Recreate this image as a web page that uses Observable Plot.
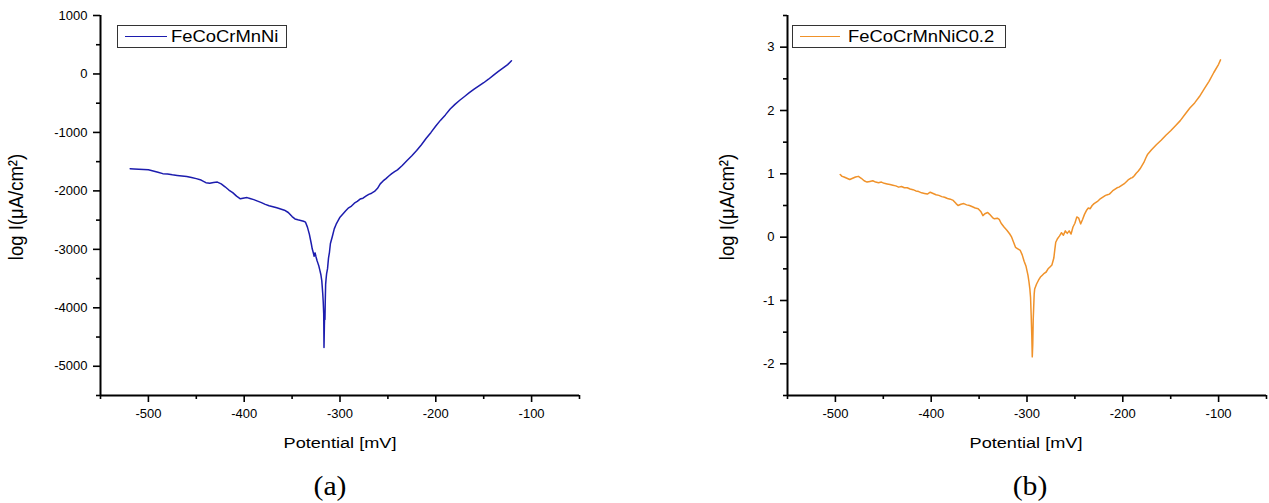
<!DOCTYPE html>
<html>
<head>
<meta charset="utf-8">
<script src="https://cdn.jsdelivr.net/npm/d3@7"></script>
<script src="https://cdn.jsdelivr.net/npm/@observablehq/plot@0.6"></script>
<style>
  body { margin: 0; background: #fff; font-family: "Liberation Sans", Arial, sans-serif; }
  #wrap { position: relative; width: 1269px; height: 503px; overflow: hidden; background: #fff; }
  .plot { position: absolute; top: 0; }
  .legend { position: absolute; top: 25px; height: 23px; border: 1px solid #333; box-sizing: border-box; background: #fff; }
  .legend .swatch { position: absolute; top: 10px; height: 0; border-top: 1.6px solid; }
  .legend .ltext { position: absolute; top: 1px; font-size: 16px; line-height: 19px; color: #000; white-space: nowrap; transform: scaleX(1.15); transform-origin: left center; }
  .xtitle { position: absolute; top: 434px; font-size: 15.5px; line-height: 18px; color: #000; white-space: nowrap; transform: translateX(-50%) scaleX(1.17); }
  .ytitle { position: absolute; top: 207px; font-size: 18.5px; line-height: 20px; color: #000; white-space: nowrap; transform: translate(-50%, -50%) rotate(-90deg) scaleY(1.1); }
  .caption { position: absolute; top: 470px; font-family: "Liberation Serif", "Times New Roman", serif; font-size: 27px; line-height: 32px; color: #000; transform: translateX(-50%) scaleX(1.1); }
</style>
</head>
<body>
<div id="wrap"></div>
<script>
// ---- shared axis ticks ----
const xMajor = [-500, -400, -300, -200, -100];
const xMinor = [-550, -450, -350, -250, -150, -50];

// ---- panel (a): FeCoCrMnNi ----
const seriesA = "FeCoCrMnNi";
const yMajorA = [1000, 0, -1000, -2000, -3000, -4000, -5000];
const yMinorA = [500, -500, -1500, -2500, -3500, -4500, -5500];
const potentialA = [-519, -515, -510, -505, -500, -495, -490, -485, -480, -475, -470, -465, -460, -455, -450, -445, -440, -436, -432, -428, -424, -420, -416, -412, -408, -404, -400, -397, -394, -390, -386, -382, -378, -374, -370, -366, -362, -358, -354, -350, -347, -344, -341, -338, -336, -334, -332, -330, -329, -328, -327, -326, -325, -324, -323, -322, -321, -320, -319, -318, -317.5, -317, -316.7, -316.3, -316, -315.7, -315.4, -315, -314.5, -314, -313, -312, -311, -310, -308, -306, -304, -302, -300, -297, -294, -291, -288, -285, -282, -279, -276, -273, -270, -267, -264, -261, -258, -255, -252, -249, -246, -243, -240, -235, -230, -225, -220, -215, -210, -205, -200, -195, -190, -185, -180, -175, -170, -165, -160, -155, -150, -145, -140, -135, -130, -125, -121];
const logIA = [-1620, -1625, -1630, -1635, -1640, -1660, -1680, -1705, -1712, -1725, -1735, -1745, -1755, -1770, -1790, -1815, -1860, -1868, -1855, -1850, -1880, -1930, -1985, -2030, -2090, -2135, -2120, -2115, -2130, -2150, -2175, -2200, -2230, -2255, -2270, -2290, -2310, -2330, -2370, -2440, -2480, -2495, -2505, -2520, -2535, -2620, -2740, -2900, -2990, -3050, -3120, -3060, -3130, -3190, -3240, -3290, -3360, -3430, -3540, -3760, -3900, -4100, -4680, -4300, -4100, -4200, -3900, -3600, -3500, -3420, -3330, -3150, -3050, -2900, -2780, -2650, -2570, -2510, -2450, -2395, -2340, -2290, -2260, -2210, -2180, -2140, -2125, -2090, -2060, -2040, -2010, -1960, -1880, -1830, -1790, -1745, -1705, -1670, -1640, -1565, -1480, -1400, -1310, -1210, -1100, -1000, -890, -790, -700, -600, -520, -450, -385, -320, -260, -205, -150, -90, -25, 40, 100, 160, 225];

// ---- panel (b): FeCoCrMnNiC0.2 ----
const seriesB = "FeCoCrMnNiC0.2";
const yMajorB = [3, 2, 1, 0, -1, -2];
const yMinorB = [3.5, 2.5, 1.5, 0.5, -0.5, -1.5, -2.5];
const potentialB = [-495, -493, -491, -488, -485, -482, -479, -476, -473, -470, -467, -464, -461, -458, -455, -452, -449, -446, -443, -440, -437, -434, -431, -428, -425, -422, -419, -416, -413, -410, -407, -404, -401, -398, -395, -392, -389, -386, -383, -380, -377, -374, -372, -369, -366, -363, -360, -357, -354, -351, -348, -346, -344, -341, -339, -336, -334, -331, -329, -327, -324, -321, -318, -316, -314, -312, -310, -307, -305, -303, -301, -299, -298, -297, -296.3, -295.6, -295, -294.5, -294, -293.5, -293, -292.5, -292, -290, -288, -286, -284, -282, -280, -278, -276, -274, -272, -271, -270, -268, -266, -264, -262, -260, -258, -256, -254, -252, -250, -248, -246, -244, -242, -240, -238, -236, -234, -232, -230, -228, -226, -224, -222, -220, -218, -216, -214, -212, -210, -208, -206, -204, -202, -200, -198, -196, -194, -192, -190, -188, -186, -184, -182, -180, -178, -176, -174, -170, -165, -160, -155, -150, -145, -140, -135, -130, -125, -120, -115, -110, -105, -100, -98];
const logIB = [0.99, 0.96, 0.95, 0.93, 0.91, 0.93, 0.95, 0.96, 0.93, 0.89, 0.87, 0.88, 0.89, 0.87, 0.86, 0.87, 0.85, 0.84, 0.83, 0.82, 0.81, 0.79, 0.80, 0.78, 0.78, 0.76, 0.75, 0.73, 0.72, 0.70, 0.69, 0.68, 0.71, 0.69, 0.67, 0.66, 0.64, 0.63, 0.61, 0.60, 0.58, 0.53, 0.50, 0.52, 0.53, 0.51, 0.50, 0.48, 0.46, 0.45, 0.40, 0.34, 0.37, 0.39, 0.36, 0.31, 0.29, 0.30, 0.28, 0.22, 0.16, 0.11, 0.05, 0.00, -0.08, -0.16, -0.18, -0.21, -0.28, -0.38, -0.46, -0.60, -0.70, -0.82, -0.95, -1.25, -1.55, -1.89, -1.70, -1.30, -1.10, -0.90, -0.82, -0.74, -0.68, -0.63, -0.60, -0.57, -0.55, -0.50, -0.47, -0.44, -0.33, -0.20, -0.08, -0.02, 0.02, 0.07, 0.03, 0.10, 0.06, 0.10, 0.05, 0.16, 0.22, 0.32, 0.30, 0.21, 0.28, 0.36, 0.42, 0.46, 0.45, 0.50, 0.53, 0.55, 0.57, 0.60, 0.62, 0.64, 0.66, 0.67, 0.68, 0.71, 0.74, 0.76, 0.78, 0.79, 0.81, 0.83, 0.85, 0.88, 0.91, 0.93, 0.94, 0.97, 1.01, 1.04, 1.08, 1.13, 1.18, 1.25, 1.31, 1.38, 1.46, 1.53, 1.61, 1.68, 1.76, 1.84, 1.94, 2.04, 2.12, 2.22, 2.34, 2.46, 2.60, 2.73, 2.80];

const xTitle = "Potential [mV]";
const yTitle = "log I(μA/cm²)";
const colorA = "#1c1cae";
const colorB = "#f0922a";

function panel({E, V, color, yDomain, yMajor, yMinor, width, marginLeft, marginRight}) {
  const data = E.map((e, i) => ({E: e, V: V[i]}));
  return Plot.plot({
    width, height: 460,
    marginLeft, marginRight, marginTop: 15, marginBottom: 65,
    style: {fontFamily: "'Liberation Sans', Arial, sans-serif", fontSize: "13px", color: "#000", background: "transparent", overflow: "visible"},
    x: {domain: [-550, -50]},
    y: {domain: yDomain},
    marks: [
      Plot.axisX({ticks: xMajor, tickSize: 7, tickPadding: 6, tickFormat: d => String(d), label: null, strokeWidth: 1.6}),
      Plot.axisX({ticks: xMinor, tickSize: 4, tickFormat: () => "", label: null, strokeWidth: 1.6}),
      Plot.axisY({ticks: yMajor, tickSize: 7, tickPadding: 6, tickFormat: d => String(d), label: null, strokeWidth: 1.6}),
      Plot.axisY({ticks: yMinor, tickSize: 4, tickFormat: () => "", label: null, strokeWidth: 1.6}),
      Plot.ruleX([-550], {strokeWidth: 2}),
      Plot.ruleY([yDomain[0]], {strokeWidth: 2}),
      Plot.line(data, {x: "E", y: "V", stroke: color, strokeWidth: 1.5})
    ]
  });
}

const wrap = document.getElementById("wrap");

const pA = panel({E: potentialA, V: logIA, color: colorA, yDomain: [-5500, 1000], yMajor: yMajorA, yMinor: yMinorA, width: 634, marginLeft: 100, marginRight: 55});
pA.classList.add("plot"); pA.style.left = "0px";
wrap.appendChild(pA);

const pB = panel({E: potentialB, V: logIB, color: colorB, yDomain: [-2.5, 3.5], yMajor: yMajorB, yMinor: yMinorB, width: 635, marginLeft: 153, marginRight: 3});
pB.classList.add("plot"); pB.style.left = "634px";
wrap.appendChild(pB);

function addDiv(cls, text, left) {
  const d = document.createElement("div");
  d.className = cls;
  d.textContent = text;
  d.style.left = left + "px";
  wrap.appendChild(d);
  return d;
}
function addLegend(left, width, swLeft, swWidth, textLeft, color, label) {
  const box = document.createElement("div");
  box.className = "legend";
  box.style.left = left + "px";
  box.style.width = width + "px";
  const sw = document.createElement("div");
  sw.className = "swatch";
  sw.style.left = (swLeft - left - 1) + "px";
  sw.style.width = swWidth + "px";
  sw.style.borderTopColor = color;
  box.appendChild(sw);
  const t = document.createElement("div");
  t.className = "ltext";
  t.style.left = (textLeft - left - 1) + "px";
  t.textContent = label;
  box.appendChild(t);
  wrap.appendChild(box);
}

addLegend(117, 170, 125, 42, 171, colorA, seriesA);
addLegend(792, 214, 800, 40, 848, colorB, seriesB);

addDiv("xtitle", xTitle, 340);
addDiv("xtitle", xTitle, 1026);
addDiv("ytitle", yTitle, 16);
addDiv("ytitle", yTitle, 727);
addDiv("caption", "(a)", 330);
addDiv("caption", "(b)", 1030);
</script>
</body>
</html>
